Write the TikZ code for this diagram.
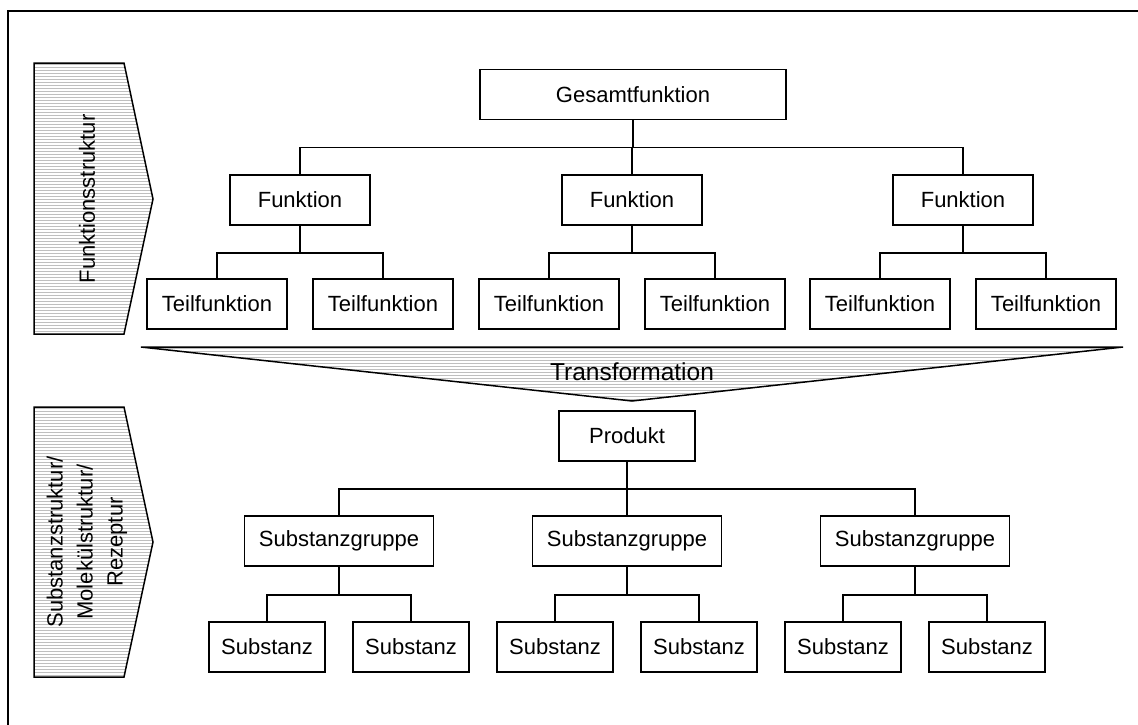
\documentclass[tikz,border=0pt]{standalone}
\usepackage{fontspec}
\setmainfont{Liberation Sans}
\usetikzlibrary{calc}

% hatching: thin grey horizontal lines inside a clipped region
\newcommand{\hatchfill}[2]{% path, top y
  \begin{scope}
    \clip #1;
    \foreach \i in {0,...,95} {
      \draw[hatch] (0,#2+1.5+3*\i) -- (1138,#2+1.5+3*\i);
    }
  \end{scope}
  \draw[outline] #1;
}

\begin{document}
\begin{tikzpicture}[x=1pt,y=-1pt,
  font=\fontsize{22}{26}\selectfont,
  box/.style={draw, line width=1.5pt, inner sep=0pt, minimum height=50pt},
  link/.style={line width=1.5pt},
  hatch/.style={line width=1pt, gray!50},
  outline/.style={line width=1.5pt, line join=miter},
  frame/.style={line width=2.5pt}]

\useasboundingbox (0,0) rectangle (1138,724);

% outer frame (left and top edges)
\draw[frame] (1140,11) -- (8,11) -- (8,726);

% side arrows
\hatchfill{(34,63) -- (124,63) -- (153,199) -- (124,334) -- (34,334) -- cycle}{63}
\node[rotate=90] (funkstr) at (87,199) {Funktionsstruktur};

\hatchfill{(34,407) -- (124,407) -- (153,542) -- (124,677) -- (34,677) -- cycle}{407}
\node[rotate=90, align=center, font=\fontsize{22}{30}\selectfont] (substr) at (87,542)
  {Substanzstruktur/\\Molekülstruktur/\\Rezeptur};

% transformation wedge
\hatchfill{(141,347) -- (1123,347) -- (632,401) -- cycle}{347}
\node[font=\fontsize{24.5}{28}\selectfont] (trans) at (632,372) {Transformation};

% function structure
\node[box, minimum width=306pt] (g) at (633,94.5) {Gesamtfunktion};
\foreach \n/\x in {1/300, 2/632, 3/963} {
  \node[box, minimum width=140pt] (f\n) at (\x,200) {Funktion};
  \node[box, minimum width=140pt] (t\n a) at (\x-83,304) {Teilfunktion};
  \node[box, minimum width=140pt] (t\n b) at (\x+83,304) {Teilfunktion};
  \draw[link] (g.south) -- +(0,27) -| (f\n.north);
  \draw[link] (f\n.south) -- +(0,27) -| (t\n a.north);
  \draw[link] (f\n.south) -- +(0,27) -| (t\n b.north);
}

% substance structure
\node[box, minimum width=136pt] (p) at (627,436) {Produkt};
\foreach \n/\x in {1/339, 2/627, 3/915} {
  \node[box, minimum width=189pt] (s\n) at (\x,541) {Substanzgruppe};
  \node[box, minimum width=116pt] (u\n a) at (\x-72,647) {Substanz};
  \node[box, minimum width=116pt] (u\n b) at (\x+72,647) {Substanz};
  \draw[link] (p.south) -- +(0,27) -| (s\n.north);
  \draw[link] (s\n.south) -- +(0,28) -| (u\n a.north);
  \draw[link] (s\n.south) -- +(0,28) -| (u\n b.north);
}
\end{tikzpicture}
\end{document}
